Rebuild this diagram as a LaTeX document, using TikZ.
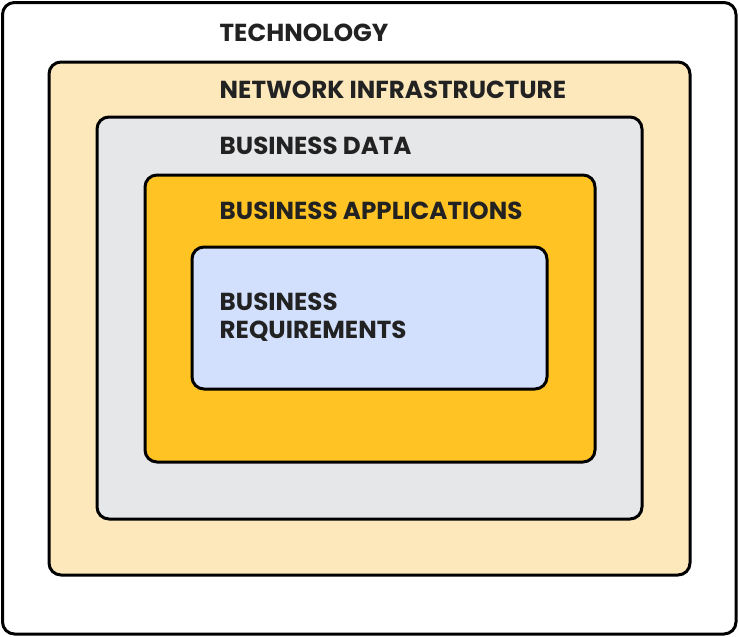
\documentclass[tikz,border=0pt]{standalone}
\usepackage{fontspec}
\setmainfont{Poppins}[UprightFont=* Bold]
\definecolor{txt}{HTML}{222222}
\definecolor{netfill}{HTML}{FCE8BB}
\definecolor{datafill}{HTML}{E6E7E9}
\definecolor{appfill}{HTML}{FFC324}
\definecolor{reqfill}{HTML}{D3E0FD}
\begin{document}
\begin{tikzpicture}[x=1pt,y=-1pt,
  layer/.style={draw=black,line width=3pt,rounded corners=12pt},
  lbl/.style={anchor=base west,inner sep=0pt,text=txt,font=\fontsize{24.6}{28}\selectfont}]
\useasboundingbox (0,0) rectangle (739,637);
\draw[layer,fill=white] (2.5,2.5) rectangle (736,634);
\draw[layer,fill=netfill] (49,62) rectangle (690,575);
\draw[layer,fill=datafill] (97,117) rectangle (642,519);
\draw[layer,fill=appfill] (145,175) rectangle (595,462);
\draw[layer,fill=reqfill] (192,247) rectangle (547,389);
\node[lbl] (t1) at (219.5,41.5) {TECHNOLOGY};
\node[lbl] (t2) at (219.5,98.3) {NETWORK INFRASTRUCTURE};
\node[lbl] (t3) at (219.5,154) {BUSINESS DATA};
\node[lbl] (t4) at (219.5,219.3) {BUSINESS APPLICATIONS};
\node[lbl] (t5) at (219.5,310) {BUSINESS};
\node[lbl] (t6) at (219.5,338) {REQUIREMENTS};
\end{tikzpicture}
\end{document}
